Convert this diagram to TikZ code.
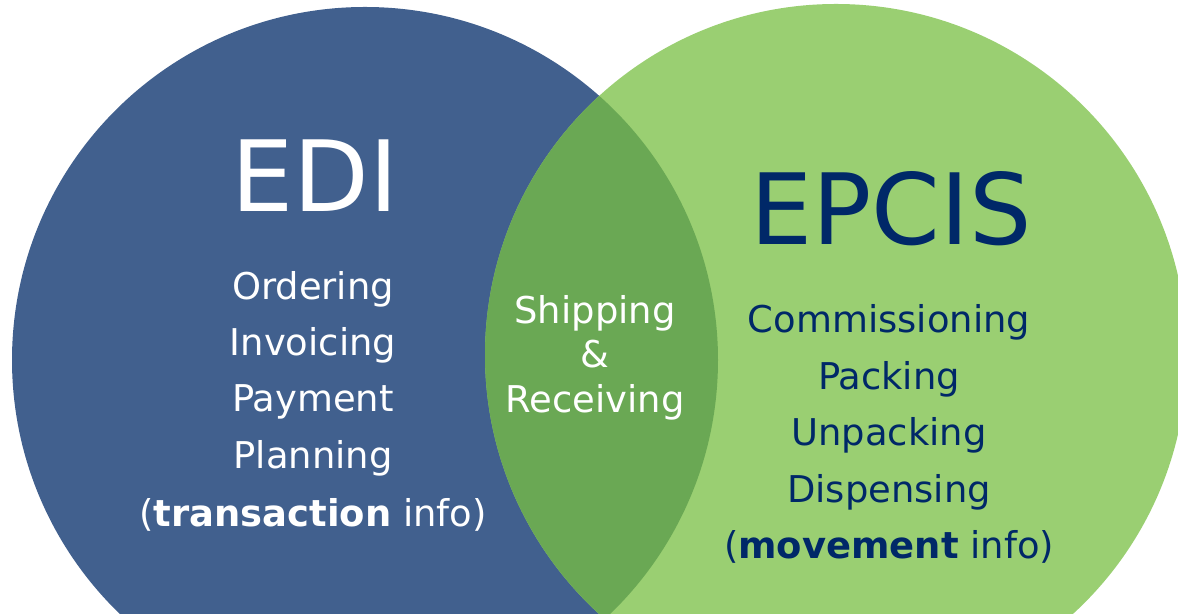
\documentclass[tikz,border=0pt]{standalone}
\usepackage{fontspec}
\setmainfont{DejaVu Sans}
\definecolor{ediblue}{RGB}{65,96,142}
\definecolor{epcisgreen}{RGB}{154,207,114}
\definecolor{sharedgreen}{RGB}{106,168,84}
\definecolor{navy}{RGB}{0,40,104}
\tikzset{
  title/.style={font=\fontsize{56}{60}\selectfont, inner sep=0pt, anchor=base},
  item/.style={font=\fontsize{21}{25}\selectfont, inner sep=0pt, anchor=base},
}
\begin{document}
\begin{tikzpicture}[x=0.02cm,y=0.02cm]
      \useasboundingbox (0,0) rectangle (1178,614);
      \clip (0,0) rectangle (1178,614);
      % the two sets
      \fill[ediblue] (365,254) circle (353);
      \fill[epcisgreen] (836,259) circle (351);
      \begin{scope}
        \clip (365,254) circle (353);
        \fill[sharedgreen] (836,259) circle (351);
      \end{scope}
      % EDI side
      \node[title, white] (edi) at (315,402) {EDI};
      \node[item, white] (ordering) at (313,314) {Ordering};
      \node[item, white] (invoicing) at (313,258) {Invoicing};
      \node[item, white] (payment) at (313,202) {Payment};
      \node[item, white] (planning) at (313,145) {Planning};
      \node[item, white] (transinfo) at (313,87) {(\textbf{transaction} info)};
      % shared part
      \node[item, white] (shipping) at (595,290) {Shipping};
      \node[item, white] (amp) at (595,246) {\&};
      \node[item, white] (receiving) at (595,201) {Receiving};
      % EPCIS side
      \node[title, navy] (epcis) at (891,369) {EPCIS};
      \node[item, navy] (commissioning) at (889,281) {Commissioning};
      \node[item, navy] (packing) at (889,224) {Packing};
      \node[item, navy] (unpacking) at (889,168) {Unpacking};
      \node[item, navy] (dispensing) at (889,111) {Dispensing};
      \node[item, navy] (moveinfo) at (889,55) {(\textbf{movement} info)};
\end{tikzpicture}
\end{document}
